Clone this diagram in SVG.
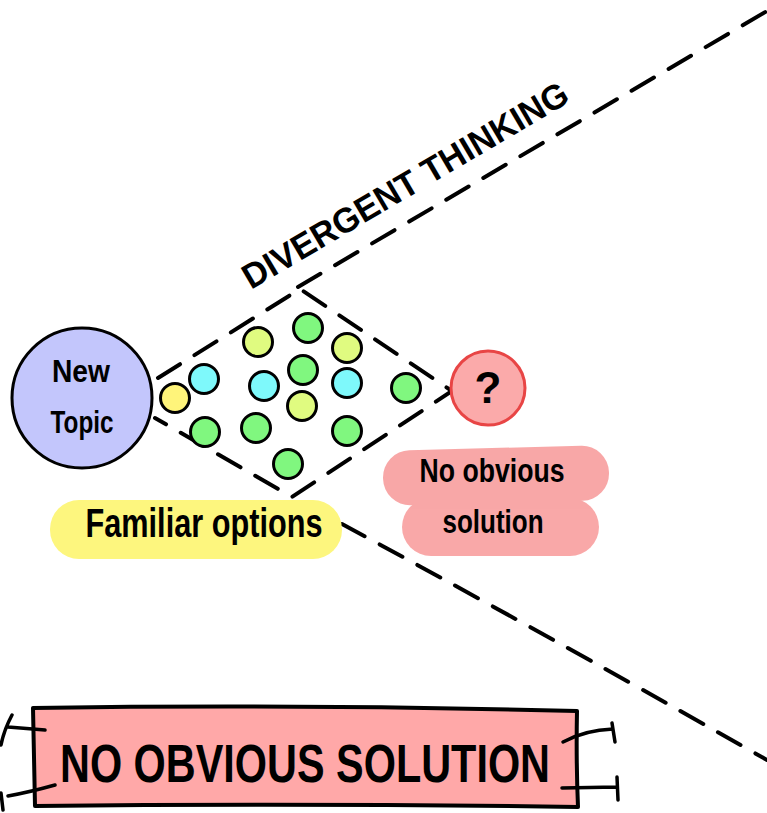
<svg xmlns="http://www.w3.org/2000/svg" width="767" height="813" viewBox="0 0 767 813">
<style>
.dash{fill:none;stroke:#000;stroke-width:4;stroke-linecap:round;stroke-dasharray:26 17}
.dot{stroke:#000;stroke-width:3}
.g{fill:#80f77f}.c{fill:#7ef9fb}.y{fill:#fff47a}.l{fill:#e0fb80}
.t{font-family:"Liberation Sans",Arial,sans-serif;fill:#000;font-weight:bold}
.br{fill:none;stroke:#000;stroke-width:3.5;stroke-linecap:round;stroke-linejoin:round}
</style>
<rect width="767" height="813" fill="#fff"/>
<g id="connectors">
<polyline class="dash" points="158,378 300,289 452,391 292,497 155,418"/>
<line class="dash" x1="298" y1="287" x2="767" y2="11"/>
<path class="dash" d="M342,524 Q520,620 767,760"/>
</g>
<g id="label-divergent">
<text class="t" x="251" y="290" font-size="35" textLength="372" lengthAdjust="spacingAndGlyphs" transform="rotate(-30.5 251 290)">DIVERGENT THINKING</text>
</g>
<g id="new-topic">
<circle cx="82" cy="398" r="70" fill="#c3c6fc" stroke="#000" stroke-width="3"/>
<text class="t" x="81" y="382" font-size="31" text-anchor="middle" textLength="58" lengthAdjust="spacingAndGlyphs">New</text>
<text class="t" x="82" y="433" font-size="31" text-anchor="middle" textLength="63" lengthAdjust="spacingAndGlyphs">Topic</text>
</g>
<g id="options">
<circle class="dot y" cx="175" cy="398" r="14.5"/>
<circle class="dot c" cx="204" cy="379" r="14.5"/>
<circle class="dot g" cx="205" cy="432" r="14.5"/>
<circle class="dot l" cx="258" cy="342" r="14.5"/>
<circle class="dot g" cx="308" cy="328" r="14.5"/>
<circle class="dot l" cx="347" cy="348" r="14.5"/>
<circle class="dot g" cx="303" cy="370" r="14.5"/>
<circle class="dot c" cx="264" cy="386" r="14.5"/>
<circle class="dot c" cx="347" cy="383" r="14.5"/>
<circle class="dot l" cx="302" cy="406" r="14.5"/>
<circle class="dot g" cx="256" cy="428" r="14.5"/>
<circle class="dot g" cx="347" cy="431" r="14.5"/>
<circle class="dot g" cx="288" cy="464" r="14.5"/>
<circle class="dot g" cx="406" cy="388" r="14.5"/>
</g>
<g id="question">
<circle cx="488" cy="388" r="37" fill="#fbaaaa" stroke="#e84545" stroke-width="3"/>
<text class="t" x="488" y="403" font-size="44" text-anchor="middle">?</text>
</g>
<g id="familiar-options">
<rect x="50" y="500" width="292" height="59" rx="29" fill="#fdf67e"/>
<text class="t" x="204" y="537" font-size="41" text-anchor="middle" textLength="237" lengthAdjust="spacingAndGlyphs">Familiar options</text>
</g>
<g id="no-obvious-solution">
<g fill="#f56e6e" opacity="0.6">
<rect x="383" y="448" width="226" height="55" rx="27" transform="rotate(-1.5 496 475)"/>
<rect x="402" y="498" width="197" height="58" rx="29"/>
</g>
<text class="t" x="492" y="482" font-size="33" text-anchor="middle" textLength="145" lengthAdjust="spacingAndGlyphs">No obvious</text>
<text class="t" x="493" y="533" font-size="33" text-anchor="middle" textLength="101" lengthAdjust="spacingAndGlyphs">solution</text>
</g>
<g id="banner">
<path d="M33,708 Q300,704 577,711 Q576,760 578,807 Q300,803 35,806 Q34,760 33,708 Z" fill="#ffa8a8" stroke="#000" stroke-width="4" stroke-linejoin="round"/>
<text class="t" x="305" y="782" font-size="54" text-anchor="middle" textLength="490" lengthAdjust="spacingAndGlyphs">NO OBVIOUS SOLUTION</text>
<path class="br" d="M8,727 L45,730 M12,715 Q4,730 1,745"/>
<path class="br" d="M55,785 Q30,792 8,796 M1,793 L3,810"/>
<path class="br" d="M563,742 Q585,730 613,729 M612,723 L615,742"/>
<path class="br" d="M562,788 L617,787 M617,777 L618,800"/>
</g>
</svg>
